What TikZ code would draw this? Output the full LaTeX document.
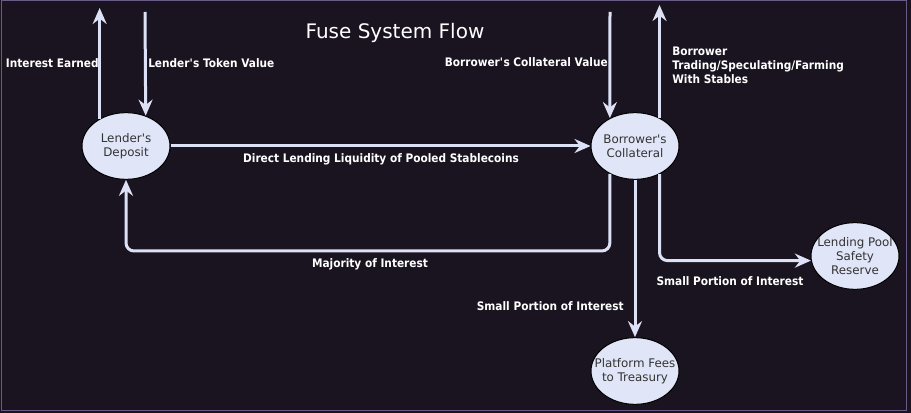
\documentclass[tikz,border=0pt]{standalone}
\usepackage{fontspec}
\setmainfont{DejaVu Sans}
\newfontfamily\lblfont[FakeStretch=0.9]{DejaVu Sans}
\usetikzlibrary{arrows.meta,shapes.geometric}
\definecolor{bg}{HTML}{19141F}
\definecolor{ln}{HTML}{DDE1F6}
\definecolor{ellfill}{HTML}{E1E5F8}
\definecolor{framec}{HTML}{6A5A88}
\definecolor{nodetext}{HTML}{333333}
\begin{document}
\begin{tikzpicture}[x=0.75pt,y=-0.75pt,
  flow/.style={draw=ln, line width=2.25pt, rounded corners=6pt,
    -{Stealth[length=12pt,width=10.5pt,inset=4pt]}},
  ell/.style={ellipse, draw=black, line width=0.75pt, fill=ellfill,
    minimum width=66pt, minimum height=50pt, inner xsep=-8pt, inner ysep=0pt,
    align=center, text=nodetext, font=\fontsize{8.9pt}{10.5pt}\selectfont},
  lbl/.style={text=white, inner sep=0pt,
    font=\lblfont\bfseries\fontsize{8.8pt}{10.5pt}\selectfont},
  ttl/.style={text=white, inner sep=0pt, font=\fontsize{15pt}{18pt}\selectfont}
]
% background and frame
\fill[bg] (0,0) rectangle (911,413);
\draw[framec, line width=0.75pt] (1,1) rectangle (906,411);
\useasboundingbox (0,0) rectangle (911,413);

% title
\node[ttl] (title) at (395,33) {Fuse System Flow};

% nodes
\node[ell] (L) at (126,146) {Lender\textquotesingle s\\Deposit};
\node[ell] (B) at (635,146) {Borrower\textquotesingle s\\Collateral};
\node[ell] (R) at (855,256) {Lending Pool\\Safety\\Reserve};
\node[ell] (T) at (635,371) {Platform Fees\\to Treasury};

% free ends
\coordinate (ieTop) at (100,8);
\coordinate (ltvTop) at (145,12);
\coordinate (bcvTop) at (610,12);
\coordinate (trTop) at (659,5);
\coordinate (mid) at (126,251);

% connectors
\draw[flow] (L.134) -- (L.134 |- ieTop);
\draw[flow] (ltvTop) -- (L.57.5);
\draw[flow] (L.east) -- (B.west);
\draw[flow] (bcvTop) -- (B.132);
\draw[flow] (B.49.6) -- (B.49.6 |- trTop);
\draw[flow] (B.-132) |- (mid) -- (L.south);
\draw[flow] (B.south) -- (T.north);
\draw[flow] (B.-49.6) |- (R.186);

% labels
\node[lbl, anchor=east] (l1) at (99,63) {Interest Earned};
\node[lbl, anchor=west] (l2) at (148,63) {Lender\textquotesingle s Token Value};
\node[lbl, anchor=east] (l3) at (608,62) {Borrower\textquotesingle s Collateral Value};
\node[lbl, anchor=north west, align=left] (l4) at (672,47) {Borrower\\Trading/Speculating/Farming\\With Stables};
\node[lbl] (l5) at (381,159) {Direct Lending Liquidity of Pooled Stablecoins};
\node[lbl] (l6) at (370,264) {Majority of Interest};
\node[lbl, anchor=east] (l7) at (624,306) {Small Portion of Interest};
\node[lbl] (l8) at (730,281) {Small Portion of Interest};
\end{tikzpicture}
\end{document}
